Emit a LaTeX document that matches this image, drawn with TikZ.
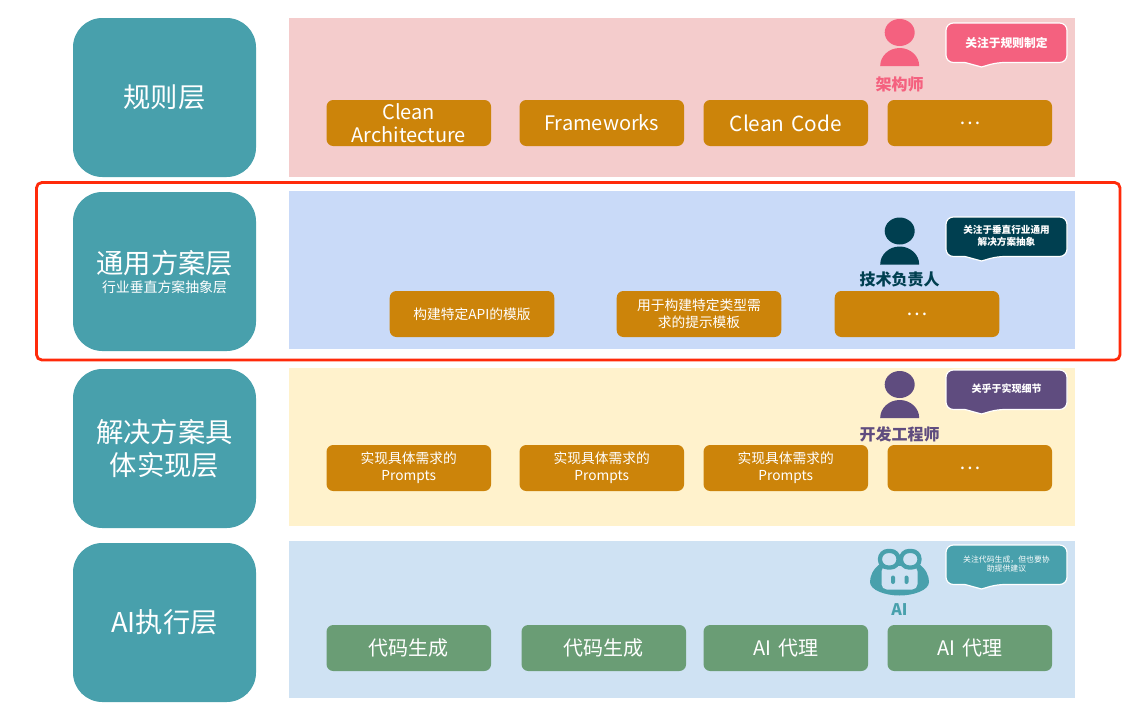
\documentclass[tikz,border=0pt]{standalone}
\usepackage{fontspec}
\setmainfont{Noto Sans CJK SC}
\definecolor{teal0}{HTML}{48A0AC}
\definecolor{pinkband}{HTML}{F4CCCC}
\definecolor{blueband}{HTML}{C9DAF8}
\definecolor{yellowband}{HTML}{FFF2CC}
\definecolor{skyband}{HTML}{CFE2F3}
\definecolor{orangebox}{HTML}{CC840A}
\definecolor{greenbox}{HTML}{6A9D75}
\definecolor{rosec}{HTML}{F4617F}
\definecolor{darkc}{HTML}{003F50}
\definecolor{purplec}{HTML}{5F4C7F}
\definecolor{redframe}{HTML}{FF2A0A}
\newcommand{\fsz}[2]{\fontsize{#1}{#2}\selectfont}
\newcommand{\dn}[1]{\raisebox{-0.6pt}{#1}}
\newcommand{\bandrect}[5]{\fill[#5] (#1,#2) rectangle (#3,#4);}
\newcommand{\person}[3]{% x, y of head top, colour
  \fill[#3] (#1,#2+13.5) ellipse [x radius=15,y radius=13.5];
  \fill[#3] (#1-19.5,#2+47) arc[start angle=180,end angle=0,x radius=19.5,y radius=-18] -- cycle;
}
\newcommand{\bubble}[2]{% y top, colour
  \draw[fill=#2,draw=white,line width=0.9pt,rounded corners=5.5pt]
    (946,#1) -- (1067,#1) -- (1067,#1+39.5) -- (997,#1+39.5)
    [sharp corners] -- (981.5,#1+44) -- (965,#1+39.5)
    [rounded corners=5.5pt] -- (946,#1+39.5) -- cycle;
}
\tikzset{
  x=0.75pt,y=-0.75pt,
  layerbox/.style={fill=teal0,rounded corners=22pt,minimum width=137.25pt,minimum height=119.25pt,inner sep=0pt,text=white,align=center,font=\fsz{20.5}{25}},
  itembox/.style={fill=orangebox,rounded corners=5pt,minimum width=123.4pt,minimum height=34.5pt,inner sep=0pt,text=white,align=center,font=\fsz{15}{18},text width=120pt},
  smallitem/.style={itembox,font=\fsz{10.3}{12.6}},
  greenitem/.style={itembox,fill=greenbox},
  role/.style={font=\bfseries\fsz{12}{14},inner sep=0pt},
  bubbletext/.style={text=white,align=center,inner sep=0pt},
}
\begin{document}
\begin{tikzpicture}
\useasboundingbox (0,0) rectangle (1143,707);
\fill[white] (0,0) rectangle (1143,707);
% bands
\bandrect{289}{18}{1075}{177}{pinkband}
\bandrect{289}{191}{1075}{349}{blueband}
\bandrect{289}{368}{1075}{526}{yellowband}
\bandrect{289}{541}{1075}{698}{skyband}
% layers
\node[layerbox] (l1) at (164.5,97.5) {规则层};
\node[layerbox] (l2) at (164.5,271.5) {};
\node[inner sep=0pt,text=white,font=\fsz{20.5}{25}] (l2a) at (164.8,263) {通用方案层};
\node[inner sep=0pt,text=white,font=\fsz{10.4}{12}] (l2b) at (164.5,287) {行业垂直方案抽象层};
\node[layerbox] (l3) at (164.5,448.5) {解决方案具\\体实现层};
\node[layerbox] (l4) at (164.5,622.5) {AI执行层};
% red frame
\draw[redframe,line width=2.1pt,rounded corners=4pt] (36.5,182.5) rectangle (1120,360);
% row 1
\node[itembox,font=\fsz{15}{17.6}] (a1) at (408.8,123) {Clean\\Architecture};
\node[itembox] (a2) at (601.8,123) {\dn{Frameworks}};
\node[itembox,font=\fsz{15.6}{18}] (a3) at (785.8,123) {\dn{Clean Code}};
\node[itembox] (a4) at (969.8,123) {…};
% row 2
\node[smallitem] (b1) at (472,314) {构建特定API的模版};
\node[smallitem] (b2) at (699,314) {用于构建特定类型需\\求的提示模板};
\node[itembox] (b3) at (917,314) {…};
% row 3
\node[smallitem] (c1) at (408.8,468) {实现具体需求的\\Prompts};
\node[smallitem] (c2) at (601.8,468) {实现具体需求的\\Prompts};
\node[smallitem] (c3) at (785.8,468) {实现具体需求的\\Prompts};
\node[itembox] (c4) at (969.8,468) {…};
% row 4
\node[greenitem] (d1) at (408.8,648) {\dn{代码生成}};
\node[greenitem] (d2) at (603.8,648) {\dn{代码生成}};
\node[greenitem] (d3) at (785.8,648) {\dn{AI 代理}};
\node[greenitem] (d4) at (969.8,648) {\dn{AI 代理}};
% persons
\person{899.7}{19}{rosec}
\person{899.7}{217.5}{darkc}
\person{899.7}{371}{purplec}
\node[role,text=rosec] (r1) at (899.5,84.5) {架构师};
\node[role,text=darkc] (r2) at (899.5,279.5) {技术负责人};
\node[role,text=purplec] (r3) at (899.5,434.5) {开发工程师};
\node[role,text=teal0] (r4) at (899.5,609.5) {AI};
% bubbles
\bubble{23}{rosec}
\bubble{217}{darkc}
\bubble{370}{purplec}
\bubble{545}{teal0}
\node[bubbletext,font=\bfseries\fsz{8.8}{10}] (t1) at (1006.5,42.5) {关注于规则制定};
\node[bubbletext,font=\bfseries\fsz{7.2}{9.4}] (t2) at (1006.5,236) {关注于垂直行业通用\\解决方案抽象};
\node[bubbletext,font=\bfseries\fsz{7.5}{9}] (t3) at (1006.5,389) {关乎于实现细节};
\node[bubbletext,font=\fsz{5.9}{7.2}] (t4) at (1006.5,564) {关注代码生成，但也要协\\助提供建议};
% AI icon
\fill[teal0] (880,564) .. controls (873,569) and (870,576) .. (870,582)
  .. controls (870,590) and (885,595.5) .. (899.5,595.5)
  .. controls (914,595.5) and (929,590) .. (929,582)
  .. controls (929,576) and (926,569) .. (919,564) -- cycle;
\fill[skyband,rounded corners=4pt] (881.5,566) rectangle (917.5,589.5);
\draw[teal0,fill=skyband,line width=3.2pt,rounded corners=6pt] (880,551) rectangle (898.5,567.5);
\draw[teal0,fill=skyband,line width=3.2pt,rounded corners=6pt] (901,551) rectangle (919.5,567.5);
\fill[teal0,rounded corners=1.5pt] (891,575.5) rectangle (895,584);
\fill[teal0,rounded corners=1.5pt] (904.5,575.5) rectangle (908.5,584);
\end{tikzpicture}
\end{document}
